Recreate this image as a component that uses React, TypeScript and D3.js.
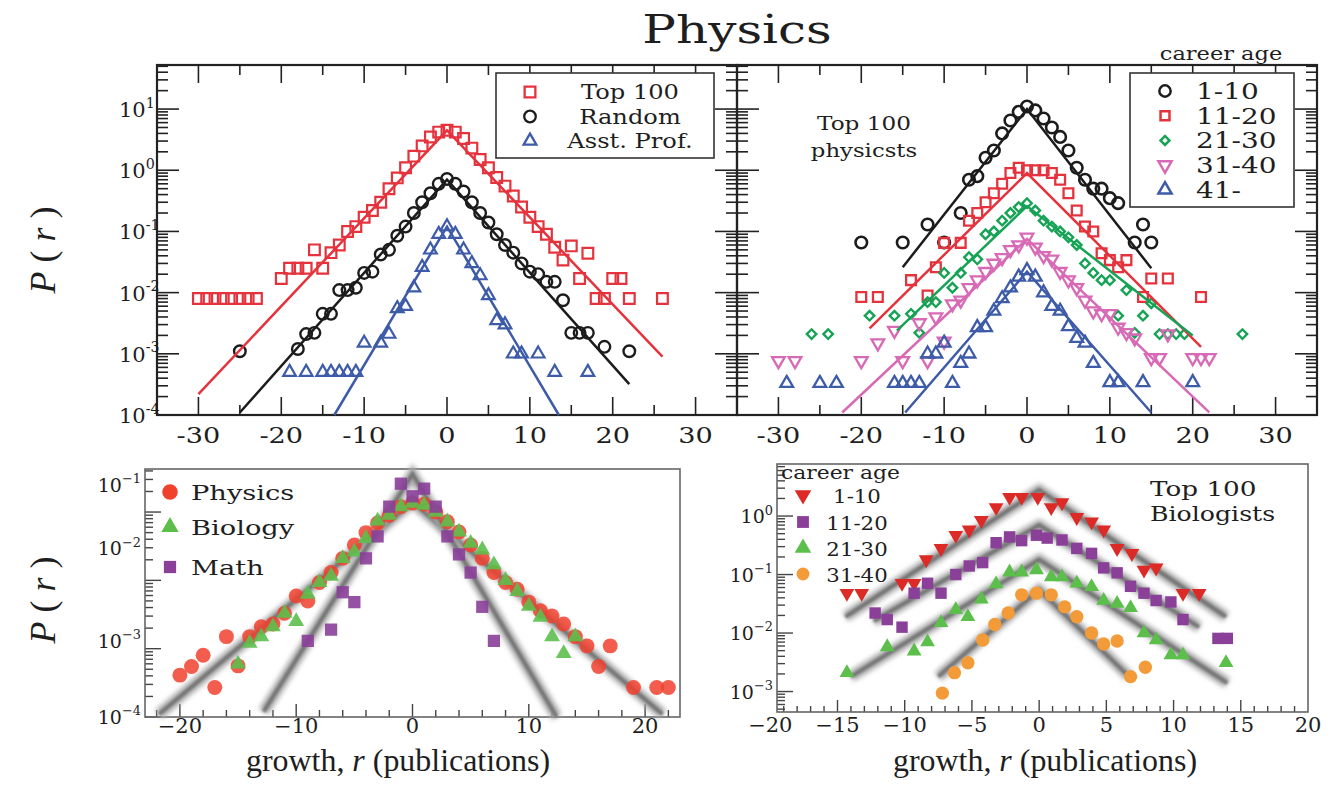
import React, { useEffect, useRef } from "react";
import * as d3 from "d3";

type Pt = [number, number];

const SERIF = "'DejaVu Serif', 'Liberation Serif', serif";
const TIMES = "'Liberation Serif', 'DejaVu Serif', serif";

// ---------- top row: Physics ----------
const topXTicks = [-30, -20, -10, 0, 10, 20, 30];
const topYExps = [1, 0, -1, -2, -3, -4];

const top100: Pt[] = [
  [-30, 0.008], [-29, 0.008], [-28, 0.008], [-27, 0.008], [-26, 0.008], [-25, 0.008], [-24, 0.008], [-23, 0.008],
  [-20, 0.017], [-19, 0.025], [-18, 0.025], [-17, 0.025], [-16, 0.05], [-15, 0.025], [-14, 0.045], [-13, 0.06],
  [-12, 0.1], [-11, 0.12], [-10, 0.17], [-9, 0.22], [-8, 0.3], [-7, 0.5], [-6, 0.75], [-5, 1.1], [-4, 1.7],
  [-3, 2.5], [-2, 3.5], [-1, 4.2], [0, 4.5], [1, 4.2], [2, 3.3], [3, 2.3], [4, 1.5], [5, 1.1], [6, 0.76],
  [7, 0.55], [8, 0.38], [9, 0.25], [10, 0.17], [11, 0.12], [12, 0.09], [13, 0.055], [14, 0.034], [15, 0.058],
  [16, 0.017], [17, 0.044], [18, 0.008], [19, 0.008], [20, 0.017], [21, 0.017], [22, 0.008], [26, 0.008],
];
const randomSample: Pt[] = [
  [-25, 0.0011], [-18, 0.0012], [-17, 0.0021], [-16, 0.0022], [-15, 0.0045], [-14, 0.0045], [-13, 0.011],
  [-12, 0.011], [-11, 0.012], [-10, 0.021], [-9, 0.022], [-8, 0.042], [-7, 0.05], [-6, 0.085], [-5, 0.12],
  [-4, 0.2], [-3, 0.3], [-2, 0.42], [-1, 0.6], [0, 0.72], [1, 0.6], [2, 0.45], [3, 0.3], [4, 0.2], [5, 0.14],
  [6, 0.09], [7, 0.06], [8, 0.045], [9, 0.03], [10, 0.022], [11, 0.02], [12, 0.015], [13, 0.015], [14, 0.0075],
  [15, 0.0022], [16, 0.0022], [17, 0.0022], [19, 0.0013], [22, 0.0011],
];
const asstProf: Pt[] = [
  [-19, 0.0005], [-17, 0.0005], [-15, 0.0005], [-14, 0.0005], [-13, 0.0005], [-12, 0.0005], [-11, 0.0005],
  [-10, 0.0015], [-8, 0.0015], [-7, 0.0021], [-6, 0.0055], [-5, 0.006], [-4, 0.012], [-3, 0.026], [-2, 0.05],
  [-1, 0.09], [0, 0.12], [1, 0.09], [2, 0.05], [3, 0.03], [4, 0.019], [5, 0.009], [6, 0.0035], [7, 0.003],
  [8, 0.001], [9, 0.001], [11, 0.001], [13, 0.0005], [17, 0.0005],
];
const top100Fit: Pt[] = [[-30, 2.2e-4], [0, 4.5], [26, 9e-4]];
const randomFit: Pt[] = [[-25, 1.1e-4], [0, 0.7], [22, 3.2e-4]];
const asstProfFit: Pt[] = [[-13.6, 1e-4], [0, 0.12], [13.5, 1e-4]];

const age1to10: Pt[] = [
  [-20, 0.066], [-15, 0.066], [-12, 0.13], [-10, 0.066], [-8, 0.2], [-7, 0.7], [-6, 0.8], [-5, 1.6], [-4, 2.1],
  [-3, 4], [-2, 6.5], [-1, 9], [0, 11], [1, 9.5], [2, 7], [3, 5], [4, 3.5], [5, 2.1], [6, 1.1], [7, 0.7],
  [8, 0.5], [9, 0.5], [10, 0.35], [11, 0.29], [13, 0.066], [14, 0.13], [15, 0.066],
];
const age11to20: Pt[] = [
  [-20, 0.0085], [-18, 0.0085], [-14, 0.016], [-12, 0.009], [-11, 0.026], [-10, 0.065], [-8, 0.065], [-7, 0.15],
  [-6, 0.2], [-5, 0.3], [-4, 0.42], [-3, 0.6], [-2, 0.9], [-1, 1.1], [0, 1.0], [1, 1.0], [2, 1.0], [3, 0.9],
  [4, 0.7], [5, 0.42], [6, 0.22], [7, 0.12], [8, 0.1], [9, 0.044], [10, 0.034], [11, 0.026], [12, 0.034],
  [14, 0.0085], [15, 0.017], [17, 0.017], [21, 0.0085],
];
const age21to30: Pt[] = [
  [-26, 0.0021], [-24, 0.0021], [-19, 0.0042], [-16, 0.0042], [-14, 0.0045], [-13, 0.0022], [-12, 0.007],
  [-11, 0.007], [-10, 0.021], [-9, 0.012], [-8, 0.021], [-7, 0.038], [-6, 0.035], [-5, 0.09], [-4, 0.1],
  [-3, 0.15], [-2, 0.2], [-1, 0.25], [0, 0.29], [1, 0.22], [2, 0.15], [3, 0.12], [4, 0.1], [5, 0.08], [6, 0.06],
  [7, 0.03], [8, 0.021], [9, 0.016], [10, 0.016], [11, 0.0042], [12, 0.011], [13, 0.0022], [14, 0.0042],
  [15, 0.0067], [16, 0.0021], [17, 0.0021], [18, 0.0021], [19, 0.0021], [26, 0.0021],
];
const age31to40: Pt[] = [
  [-30, 0.00077], [-28, 0.00077], [-20, 0.00077], [-18, 0.0015], [-16, 0.0024], [-15, 0.00077], [-13, 0.0032],
  [-12, 0.00077], [-11, 0.004], [-10, 0.0016], [-9, 0.0065], [-8, 0.0075], [-7, 0.012], [-6, 0.016], [-5, 0.022],
  [-4, 0.03], [-3, 0.037], [-2, 0.05], [-1, 0.06], [0, 0.08], [1, 0.055], [2, 0.04], [3, 0.035], [4, 0.022],
  [5, 0.016], [6, 0.012], [7, 0.0075], [8, 0.005], [9, 0.0045], [10, 0.0045], [11, 0.0027], [12, 0.0022],
  [13, 0.0018], [15, 0.00086], [16, 0.00086], [17, 0.0021], [20, 0.00086], [21, 0.00086], [22, 0.00086],
];
const age41plus: Pt[] = [
  [-29, 0.00033], [-25, 0.00033], [-23, 0.00033], [-16, 0.00033], [-15, 0.00033], [-14, 0.00033], [-13, 0.00033],
  [-12, 0.001], [-11, 0.001], [-10, 0.0015], [-9, 0.00033], [-8, 0.0007], [-7, 0.001], [-6, 0.0027], [-5, 0.0027],
  [-4, 0.005], [-3, 0.008], [-2, 0.012], [-1, 0.018], [0, 0.023], [1, 0.018], [2, 0.01], [3, 0.006], [4, 0.005],
  [5, 0.0028], [6, 0.0018], [7, 0.0015], [8, 0.0007], [10, 0.00034], [11, 0.00034], [14, 0.00034], [20, 0.00034],
];
const age1to10Fit: Pt[] = [[-15, 0.026], [0, 10], [15, 0.025]];
const age11to20Fit: Pt[] = [[-19, 0.0026], [0, 0.9], [21, 0.0013]];
const age21to30Fit: Pt[] = [[-15.7, 0.0024], [0, 0.26], [20, 0.002]];
const age31to40Fit: Pt[] = [[-22.3, 1.1e-4], [0, 0.075], [22, 1.1e-4]];
const age41plusFit: Pt[] = [[-14.7, 1.1e-4], [0, 0.022], [15, 1.1e-4]];

// ---------- bottom left: fields ----------
const fieldXTicks = [-20, -10, 0, 10, 20];
const fieldYExps = [-1, -2, -3, -4];
const physicsGrowth: Pt[] = [
  [-20, 4.1e-4], [-19, 5.5e-4], [-18, 8e-4], [-17, 2.7e-4], [-16, 0.0015], [-15, 5.6e-4], [-14, 0.0015],
  [-13, 0.0021], [-12, 0.0023], [-11, 0.0033], [-10, 0.0059], [-9, 0.005], [-8, 0.0093], [-7, 0.013],
  [-6, 0.021], [-5, 0.033], [-4, 0.05], [-3, 0.069], [-2, 0.09], [-1, 0.12], [0, 0.135], [1, 0.13], [2, 0.1],
  [3, 0.072], [4, 0.051], [5, 0.033], [6, 0.021], [7, 0.013], [8, 0.0093], [9, 0.0074], [10, 0.0048],
  [11, 0.0036], [12, 0.003], [13, 0.0023], [14, 0.0015], [15, 0.0011], [16, 5.5e-4], [17, 0.0011],
  [19, 2.7e-4], [21, 2.7e-4], [22, 2.7e-4],
];
const biologyGrowth: Pt[] = [
  [-15, 6e-4], [-14, 0.0012], [-13, 0.0015], [-12, 0.0021], [-11, 0.0033], [-10, 0.0025], [-9, 0.0063],
  [-8, 0.0093], [-7, 0.0115], [-6, 0.021], [-5, 0.026], [-4, 0.041], [-3, 0.074], [-2, 0.09], [-1, 0.12],
  [0, 0.135], [1, 0.126], [2, 0.1], [3, 0.072], [4, 0.051], [5, 0.035], [6, 0.028], [7, 0.017], [8, 0.01],
  [9, 0.0069], [10, 0.0042], [11, 0.0029], [12, 0.0015], [13, 8.5e-4], [14, 0.0015],
];
const mathGrowth: Pt[] = [
  [-9, 0.0013], [-7, 0.0019], [-6, 0.0067], [-5, 0.0048], [-4, 0.021], [-3, 0.044], [-2, 0.12], [-1, 0.26],
  [0, 0.17], [1, 0.22], [2, 0.12], [3, 0.044], [4, 0.024], [5, 0.013], [6, 0.0041], [7, 0.0013],
];
const physBioFit: Pt[] = [[-21.8, 1.1e-4], [0, 0.14], [21.5, 1.1e-4]];
const mathFit: Pt[] = [[-12.8, 1.2e-4], [0, 0.36], [12.4, 1.0e-4]];

// ---------- bottom right: top 100 biologists by career age ----------
const bioXTicks = [-20, -15, -10, -5, 0, 5, 10, 15, 20];
const bioYExps = [0, -1, -2, -3];
const bio1to10: Pt[] = [
  [-14.3, 0.048], [-13.2, 0.048], [-10.2, 0.071], [-9.3, 0.071], [-8.4, 0.18], [-7.3, 0.28], [-6.2, 0.47],
  [-5.2, 0.58], [-4.3, 0.85], [-3.2, 1.4], [-2.2, 2.1], [-1.3, 2.1], [-0.1, 2.1], [0.9, 1.4], [1.7, 1.7],
  [2.8, 0.95], [3.9, 0.8], [4.8, 0.58], [5.8, 0.28], [6.9, 0.23], [7.8, 0.12], [8.7, 0.13], [10.7, 0.048],
  [11.9, 0.048],
];
const bio11to20: Pt[] = [
  [-12.2, 0.022], [-11.3, 0.017], [-10.2, 0.0126], [-9.3, 0.048], [-8.3, 0.071], [-7.3, 0.048], [-6.2, 0.1],
  [-5.2, 0.14], [-4.2, 0.16], [-3.2, 0.35], [-2.2, 0.44], [-1.3, 0.38], [-0.2, 0.47], [0.6, 0.42], [1.7, 0.39],
  [2.8, 0.28], [3.9, 0.23], [4.8, 0.13], [5.8, 0.107], [6.8, 0.063], [7.8, 0.048], [8.7, 0.036], [9.8, 0.034],
  [10.7, 0.017], [13.3, 0.0081], [14.0, 0.0081],
];
const bio21to30: Pt[] = [
  [-14.3, 0.0021], [-11.3, 0.0058], [-9.3, 0.0049], [-8.3, 0.007], [-7.3, 0.015], [-6.2, 0.025], [-5.3, 0.019],
  [-4.3, 0.038], [-3.2, 0.069], [-2.2, 0.11], [-1.3, 0.11], [-0.2, 0.12], [0.9, 0.091], [1.7, 0.091],
  [2.8, 0.071], [3.9, 0.062], [4.8, 0.036], [5.8, 0.032], [6.8, 0.027], [7.8, 0.01], [8.7, 0.0076],
  [9.8, 0.0042], [10.7, 0.0042], [13.9, 0.0031],
];
const bio31to40: Pt[] = [
  [-7.2, 0.00094], [-6.3, 0.0021], [-5.3, 0.0031], [-4.2, 0.0076], [-3.3, 0.014], [-2.3, 0.022], [-1.3, 0.045],
  [-0.2, 0.048], [0.9, 0.045], [1.9, 0.028], [2.8, 0.019], [3.9, 0.01], [4.8, 0.0065], [5.8, 0.0073],
  [6.8, 0.0018], [7.9, 0.0026],
];
const bio1to10Fit: Pt[] = [[-14.4, 0.019], [0, 2.8], [13.9, 0.019]];
const bio11to20Fit: Pt[] = [[-12.3, 0.016], [0, 0.7], [11.9, 0.0126]];
const bio21to30Fit: Pt[] = [[-14, 0.0018], [0, 0.18], [14, 0.0014]];
const bio31to40Fit: Pt[] = [[-7.5, 0.0018], [0, 0.055], [6.7, 0.0018]];

const C = {
  red: "#e5333d", black: "#1c1c1c", blue: "#3d5ba8", green: "#16a356", pink: "#d86ab5",
  phys: "#f0412f", bio: "#5cbf4c", math: "#8a3f99", bRed: "#dc2a26", bOrange: "#f39b38",
};

const isDecade = (v: number) => Math.abs(Math.log10(v) - Math.round(Math.log10(v))) < 1e-6;

export default function App() {
  const ref = useRef<SVGSVGElement>(null);

  useEffect(() => {
    const svg = d3.select(ref.current);
    svg.selectAll("*").remove();

    const defs = svg.append("defs");
    const addBlur = (id: string, s: number) =>
      defs.append("filter").attr("id", id).attr("filterUnits", "userSpaceOnUse")
        .attr("x", 0).attr("y", 0).attr("width", 1329).attr("height", 790)
        .append("feGaussianBlur").attr("stdDeviation", s);
    addBlur("soft", 2.5);
    addBlur("soft2", 1);

    // text with optional horizontal stretch (the source lettering is wide)
    const text = (x: number, y: number, parts: any, size: number, anchor = "start", sx = 1, font = SERIF) => {
      const t = svg.append("text").attr("x", 0).attr("y", 0).attr("font-family", font)
        .attr("font-size", size).attr("text-anchor", anchor).attr("fill", "#1e1e1e")
        .attr("transform", `translate(${x},${y}) scale(${sx},1)`);
      const list: [string, boolean][] = typeof parts === "string" ? [[parts, false]] : parts;
      list.forEach(([s, it]) => t.append("tspan").attr("font-style", it ? "italic" : "normal").text(s));
      return t;
    };
    const pow = (x: number, y: number, e: number, size: number, minus: string, anchor = "start") => {
      const t = svg.append("text").attr("x", x).attr("y", y).attr("font-family", SERIF)
        .attr("font-size", size).attr("text-anchor", anchor).attr("fill", "#1e1e1e");
      t.append("tspan").text("10");
      t.append("tspan").attr("dy", -size * 0.45).attr("font-size", size * 0.68)
        .text(e < 0 ? minus + String(-e) : String(e));
    };
    const seg = (g: any, x1: number, y1: number, x2: number, y2: number) =>
      g.append("line").attr("x1", x1).attr("y1", y1).attr("x2", x2).attr("y2", y2);

    const markers = (x: any, y: any, data: Pt[], type: any, size: number, o: any) => {
      const sym = d3.symbol().type(type).size(size);
      svg.append("g").selectAll("path").data(data).join("path")
        .attr("d", sym)
        .attr("transform", (d: Pt) => `translate(${x(d[0])},${y(d[1])}) rotate(${o.rot || 0})`)
        .attr("fill", o.fill || "none")
        .attr("fill-opacity", o.fo ?? 1)
        .attr("stroke", o.stroke || "none")
        .attr("stroke-width", o.sw || 0);
    };
    const fit = (x: any, y: any, data: Pt[], color: string, w: number) => {
      svg.append("path").datum(data)
        .attr("d", d3.line<Pt>().x((d) => x(d[0])).y((d) => y(d[1])))
        .attr("fill", "none").attr("stroke", color).attr("stroke-width", w);
    };
    const grayFit = (x: any, y: any, data: Pt[]) => {
      const line = d3.line<Pt>().x((d) => x(d[0])).y((d) => y(d[1]));
      svg.append("path").datum(data).attr("d", line).attr("fill", "none")
        .attr("stroke", "#a8a8a8").attr("stroke-width", 11).attr("filter", "url(#soft)");
      svg.append("path").datum(data).attr("d", line).attr("fill", "none")
        .attr("stroke", "#767676").attr("stroke-width", 4).attr("filter", "url(#soft2)");
    };

    // ===== top row =====
    const yTop = d3.scaleLog().domain([1e-4, 10 ** 1.72]).range([415, 65]);
    const xTL = d3.scaleLinear().domain([-35, 35]).range([157, 737]);
    const xTR = d3.scaleLinear().domain([-35, 35]).range([737, 1317]);

    const topFrame = (x: any) => {
      const [xa, xb] = x.range();
      const [ya, yb] = yTop.range();
      const g = svg.append("g").attr("stroke", "#222").attr("stroke-width", 1.6);
      d3.range(-30, 31, 5).forEach((v) => {
        const L = v % 10 === 0 ? 18 : 10;
        seg(g, x(v), ya, x(v), ya - L);
        seg(g, x(v), yb, x(v), yb + L);
      });
      yTop.ticks().forEach((v) => {
        const L = isDecade(v) ? 22 : 11;
        seg(g, xa, yTop(v), xa + L, yTop(v));
        seg(g, xb, yTop(v), xb - L, yTop(v));
      });
      g.append("rect").attr("x", xa).attr("y", yb).attr("width", xb - xa).attr("height", ya - yb)
        .attr("fill", "none").attr("stroke-width", 2.2);
      topXTicks.forEach((v) => text(x(v), 443, v < 0 ? "-" + String(-v) : String(v), 23, "middle", 1.18));
    };
    topFrame(xTL);
    topFrame(xTR);
    topYExps.forEach((e) => pow(119, yTop(10 ** e) + 8, e, 21, "-"));

    // top-left series
    markers(xTL, yTop, top100, d3.symbolSquare, 115, { stroke: C.red, sw: 2.2 });
    markers(xTL, yTop, randomSample, d3.symbolCircle, 105, { stroke: C.black, sw: 2.4 });
    markers(xTL, yTop, asstProf, d3.symbolTriangle, 70, { stroke: C.blue, sw: 2.2 });
    fit(xTL, yTop, top100Fit, C.red, 2.5);
    fit(xTL, yTop, randomFit, C.black, 2.5);
    fit(xTL, yTop, asstProfFit, C.blue, 2.5);

    // top-right series
    markers(xTR, yTop, age1to10, d3.symbolCircle, 105, { stroke: C.black, sw: 2.6 });
    markers(xTR, yTop, age11to20, d3.symbolSquare, 95, { stroke: C.red, sw: 2.3 });
    markers(xTR, yTop, age21to30, d3.symbolSquare, 45, { stroke: C.green, sw: 2.4, rot: 45 });
    markers(xTR, yTop, age31to40, d3.symbolTriangle, 70, { stroke: C.pink, sw: 2.3, rot: 180 });
    markers(xTR, yTop, age41plus, d3.symbolTriangle, 70, { stroke: C.blue, sw: 2.3 });
    fit(xTR, yTop, age1to10Fit, C.black, 2.5);
    fit(xTR, yTop, age11to20Fit, C.red, 2.5);
    fit(xTR, yTop, age21to30Fit, C.green, 2.5);
    fit(xTR, yTop, age31to40Fit, C.pink, 2.5);
    fit(xTR, yTop, age41plusFit, C.blue, 2.5);

    // top-left legend
    svg.append("rect").attr("x", 496).attr("y", 73).attr("width", 218).attr("height", 85)
      .attr("fill", "#fff").attr("stroke", "#333").attr("stroke-width", 1.6);
    const lgL = [
      { label: "Top 100", type: d3.symbolSquare, size: 115, color: C.red },
      { label: "Random", type: d3.symbolCircle, size: 105, color: C.black },
      { label: "Asst. Prof.", type: d3.symbolTriangle, size: 70, color: C.blue },
    ];
    lgL.forEach((d, i) => {
      const yy = 92 + i * 24.5;
      svg.append("path").attr("d", d3.symbol().type(d.type).size(d.size)())
        .attr("transform", `translate(530,${yy})`).attr("fill", "none").attr("stroke", d.color).attr("stroke-width", 2.3);
      text(630, yy + 7, d.label, 21, "middle", 1.15);
    });

    // top-right legend
    svg.append("rect").attr("x", 1130).attr("y", 73).attr("width", 164).attr("height", 134)
      .attr("fill", "#fff").attr("stroke", "#333").attr("stroke-width", 1.6);
    const lgR = [
      { label: "1-10", type: d3.symbolCircle, size: 100, color: C.black, rot: 0 },
      { label: "11-20", type: d3.symbolSquare, size: 80, color: C.red, rot: 0 },
      { label: "21-30", type: d3.symbolSquare, size: 40, color: C.green, rot: 45 },
      { label: "31-40", type: d3.symbolTriangle, size: 75, color: C.pink, rot: 180 },
      { label: "41-", type: d3.symbolTriangle, size: 75, color: C.blue, rot: 0 },
    ];
    lgR.forEach((d, i) => {
      const yy = 91 + i * 24.7;
      svg.append("path").attr("d", d3.symbol().type(d.type).size(d.size)())
        .attr("transform", `translate(1165,${yy}) rotate(${d.rot})`).attr("fill", "none")
        .attr("stroke", d.color).attr("stroke-width", 2.5);
      text(1196, yy + 8, d.label, 22, "start", 1.27);
    });
    text(1221, 60, "career age", 18, "middle", 1.25);
    text(864, 130, "Top 100", 19, "middle", 1.22);
    text(864, 157, "physicsts", 19, "middle", 1.2);

    text(737, 43, "Physics", 40, "middle", 1.25);

    // y labels
    const yLabel = (cx: number, cy: number) =>
      text(0, 0, [["P", true], [" ( ", false], ["r", true], [" )", false]], 36, "middle", 1, TIMES)
        .attr("transform", `translate(${cx},${cy}) rotate(-90)`);
    yLabel(55, 250);
    yLabel(55, 600);

    // ===== bottom left =====
    const xBL = d3.scaleLinear().domain([-23, 23]).range([145, 680]);
    const yBL = d3.scaleLog().domain([1e-4, 10 ** -0.37]).range([717, 469]);
    // the source prints the upper decade labels above their ticks
    const blLabelShift: Record<number, number> = { [-1]: -27, [-2]: -32, [-3]: -8, [-4]: 0 };
    {
      const g = svg.append("g").attr("stroke", "#444").attr("stroke-width", 1.4);
      d3.range(-22, 23, 2).forEach((v) => seg(g, xBL(v), 717, xBL(v), 717 - (v % 10 === 0 ? 13 : 7)));
      yBL.ticks().forEach((v) => seg(g, 145, yBL(v), 145 + (isDecade(v) ? 16 : 8), yBL(v)));
      g.append("rect").attr("x", 145).attr("y", 469).attr("width", 535).attr("height", 248)
        .attr("fill", "none").attr("stroke", "#666").attr("stroke-width", 1.6);
      fieldXTicks.forEach((v) => text(xBL(v), 733, v < 0 ? "\u2212" + String(-v) : String(v), 20, "middle", 1.05));
      fieldYExps.forEach((e) => pow(141, yBL(10 ** e) + 7 + blLabelShift[e], e, 19, "\u2212", "end"));
    }
    grayFit(xBL, yBL, physBioFit);
    grayFit(xBL, yBL, mathFit);
    markers(xBL, yBL, physicsGrowth, d3.symbolCircle, 175, { fill: C.phys, fo: 0.85 });
    markers(xBL, yBL, biologyGrowth, d3.symbolTriangle, 110, { fill: C.bio, fo: 0.9 });
    markers(xBL, yBL, mathGrowth, d3.symbolSquare, 150, { fill: C.math, fo: 0.9 });
    const lgBL = [
      { label: "Physics", type: d3.symbolCircle, size: 190, color: C.phys },
      { label: "Biology", type: d3.symbolTriangle, size: 130, color: C.bio },
      { label: "Math", type: d3.symbolSquare, size: 150, color: C.math },
    ];
    lgBL.forEach((d, i) => {
      const yy = [492, 527, 567][i];
      svg.append("path").attr("d", d3.symbol().type(d.type).size(d.size)())
        .attr("transform", `translate(170,${yy})`).attr("fill", d.color);
      text(191, yy + 8, d.label, 21, "start", 1.3);
    });

    // ===== bottom right =====
    const xBR = d3.scaleLinear().domain([-19.5, 20]).range([777, 1308]);
    const yBR = d3.scaleLog().domain([10 ** -3.35, 10 ** 0.89]).range([712, 464]);
    {
      const g = svg.append("g").attr("stroke", "#444").attr("stroke-width", 1.4);
      d3.range(-19, 20, 1).forEach((v) => seg(g, xBR(v), 712, xBR(v), 712 - (v % 5 === 0 ? 12 : 6)));
      yBR.ticks().forEach((v) => seg(g, 777, yBR(v), 777 + (isDecade(v) ? 16 : 8), yBR(v)));
      g.append("rect").attr("x", 777).attr("y", 464).attr("width", 531).attr("height", 248)
        .attr("fill", "none").attr("stroke", "#666").attr("stroke-width", 1.6);
      bioXTicks.forEach((v) => text(xBR(v), 732, v < 0 ? "\u2212" + String(-v) : String(v), 20, "middle", 1.05));
      bioYExps.forEach((e) => pow(773, yBR(10 ** e) + 7, e, 19, "\u2212", "end"));
    }
    grayFit(xBR, yBR, bio1to10Fit);
    grayFit(xBR, yBR, bio11to20Fit);
    grayFit(xBR, yBR, bio21to30Fit);
    grayFit(xBR, yBR, bio31to40Fit);
    markers(xBR, yBR, bio1to10, d3.symbolTriangle, 95, { fill: C.bRed, rot: 180 });
    markers(xBR, yBR, bio11to20, d3.symbolSquare, 130, { fill: C.math });
    markers(xBR, yBR, bio21to30, d3.symbolTriangle, 95, { fill: C.bio });
    markers(xBR, yBR, bio31to40, d3.symbolCircle, 140, { fill: C.bOrange });
    text(781, 479, "career age", 19, "start", 1.15);
    const lgBR = [
      { label: "1-10", type: d3.symbolTriangle, size: 120, color: C.bRed, rot: 180 },
      { label: "11-20", type: d3.symbolSquare, size: 140, color: C.math, rot: 0 },
      { label: "21-30", type: d3.symbolTriangle, size: 120, color: C.bio, rot: 0 },
      { label: "31-40", type: d3.symbolCircle, size: 130, color: C.bOrange, rot: 0 },
    ];
    lgBR.forEach((d, i) => {
      const yy = [495, 522, 548, 574][i];
      svg.append("path").attr("d", d3.symbol().type(d.type).size(d.size)())
        .attr("transform", `translate(803,${yy}) rotate(${d.rot})`).attr("fill", d.color);
      text(857, yy + 8, d.label, 19, "middle", 1.12);
    });
    text(1150, 496, "Top 100", 21, "start", 1.25);
    text(1150, 521, "Biologists", 21, "start", 1.2);

    // x titles
    const xTitle = (cx: number) =>
      text(cx, 771, [["growth, ", false], ["r", true], [" (publications)", false]], 31, "middle", 1.03, TIMES);
    xTitle(398);
    xTitle(1045);
  }, []);

  return (
    <svg
      ref={ref}
      width={1329}
      height={790}
      style={{ position: "absolute", left: 0, top: 0, background: "#fff" }}
    />
  );
}
